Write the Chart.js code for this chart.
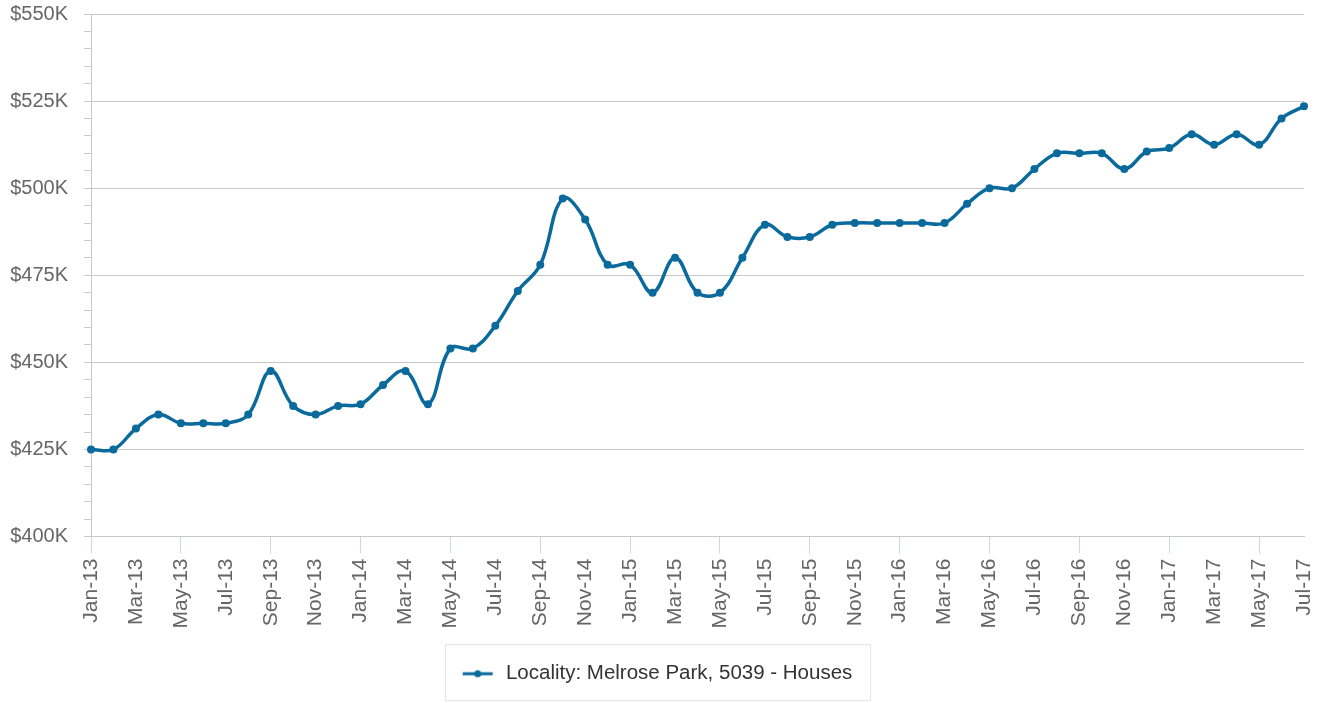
<!DOCTYPE html>
<html>
<head>
<meta charset="utf-8">
<script src="https://cdn.jsdelivr.net/npm/chart.js@4/dist/chart.umd.min.js"></script>
<style>
  html, body { margin: 0; padding: 0; background: #fff; }
  #wrap { width: 1320px; height: 703px; position: relative; }
</style>
</head>
<body>
<div id="wrap"><canvas id="priceChart"></canvas></div>
<script>
// monthly categories Jan-13 .. Jul-17
const months = [
  "Jan-13","Feb-13","Mar-13","Apr-13","May-13","Jun-13","Jul-13","Aug-13","Sep-13","Oct-13","Nov-13","Dec-13",
  "Jan-14","Feb-14","Mar-14","Apr-14","May-14","Jun-14","Jul-14","Aug-14","Sep-14","Oct-14","Nov-14","Dec-14",
  "Jan-15","Feb-15","Mar-15","Apr-15","May-15","Jun-15","Jul-15","Aug-15","Sep-15","Oct-15","Nov-15","Dec-15",
  "Jan-16","Feb-16","Mar-16","Apr-16","May-16","Jun-16","Jul-16","Aug-16","Sep-16","Oct-16","Nov-16","Dec-16",
  "Jan-17","Feb-17","Mar-17","Apr-17","May-17","Jun-17","Jul-17"
];

// median price, Melrose Park houses
const medianPrice = [
  425000, 425000, 431000, 435000, 432500, 432500, 432500, 435000, 447500, 437500, 435000, 437500,
  438000, 443500, 447500, 438000, 454000, 454000, 460500, 470500, 478000, 497000, 491000, 478000,
  478000, 470000, 480000, 470000, 470000, 480000, 489500, 486000, 486000, 489500, 490000, 490000,
  490000, 490000, 490000, 495500, 500000, 500000, 505500, 510000, 510000, 510000, 505500, 510500,
  511500, 515500, 512500, 515500, 512500, 520000, 523500
];

const seriesName = "Locality: Melrose Park, 5039 - Houses";
const yMin = 400000;
const yMax = 550000;
const yMajorStep = 25000;
const yMinorStep = 5000;

const lineColor = "#0b6a9c";
const fontFamily = "'Liberation Sans', Arial, sans-serif";

// legend symbol: short line with a dot in the middle (+3px gap before text)
const symbol = document.createElement("canvas");
symbol.width = 36;
symbol.height = 10;
(function(){
  const c = symbol.getContext("2d");
  c.strokeStyle = lineColor;
  c.lineWidth = 3;
  c.beginPath();
  c.moveTo(3, 5);
  c.lineTo(33, 5);
  c.stroke();
  c.fillStyle = lineColor;
  c.beginPath();
  c.arc(18, 5, 3.5, 0, Math.PI * 2);
  c.fill();
})();

const legendShift = 4;

const legendBox = {
  id: "legendBox",
  afterLayout(chart){
    const lg = chart.legend;
    if(!lg) return;
    lg.left += legendShift;
    lg.right += legendShift;
  },
  afterDraw(chart){
    const lg = chart.legend;
    if(!lg || !lg.legendHitBoxes || !lg.legendHitBoxes.length) return;
    const hb = lg.legendHitBoxes[0];
    const ctx = chart.ctx;
    ctx.save();
    ctx.strokeStyle = "#e6e6e6";
    ctx.lineWidth = 1;
    ctx.strokeRect(Math.round(hb.left - 15) + 0.5, Math.round(lg.top) + 0.5,
                   Math.round(hb.width + 32), 56);
    ctx.restore();
  }
};

const ctx = document.getElementById("priceChart");

new Chart(ctx, {
  type: "line",
  data: {
    labels: months,
    datasets: [{
      label: seriesName,
      data: medianPrice,
      borderColor: lineColor,
      backgroundColor: lineColor,
      borderWidth: 3.5,
      pointRadius: 4,
      pointBorderWidth: 0,
      pointBackgroundColor: lineColor,
      tension: 0.4,
      fill: false
    }]
  },
  options: {
    responsive: true,
    maintainAspectRatio: false,
    animation: false,
    layout: { padding: { top: 14, right: 16, left: 0, bottom: 9 } },
    plugins: {
      tooltip: { enabled: false },
      legend: {
        position: "bottom",
        labels: {
          usePointStyle: true,
          pointStyleWidth: 36,
          padding: 20,
          color: "#333",
          font: { family: fontFamily, size: 20.5 },
          generateLabels(chart){
            const items = Chart.defaults.plugins.legend.labels.generateLabels(chart);
            items.forEach(function(it){ it.pointStyle = symbol; });
            return items;
          }
        }
      }
    },
    scales: {
      x: {
        afterFit(scale){
          scale.height = 107;
          scale.paddingLeft = 0;
          scale.paddingRight = 0;
        },
        grid: {
          drawOnChartArea: false,
          drawTicks: true,
          tickLength: 17,
          tickColor: function(c){ return c.index % 2 === 0 ? "#ccd6eb" : "rgba(0,0,0,0)"; }
        },
        border: { color: "#c8c8c8", width: 1 },
        ticks: {
          autoSkip: false,
          maxRotation: 90,
          minRotation: 90,
          padding: 5,
          color: "#666",
          font: { family: fontFamily, size: 21 },
          callback: function(v, i){ return i % 2 === 0 ? months[i] : null; }
        }
      },
      y: {
        min: yMin,
        max: yMax,
        afterFit(scale){
          scale.width = 91;
          scale.paddingTop = 0;
          scale.paddingBottom = 0;
        },
        grid: {
          color: function(c){
            return c.tick && c.tick.value % yMajorStep === 0 ? "#c8c8c8" : "rgba(0,0,0,0)";
          },
          tickColor: "#c8c8c8",
          tickLength: 7,
          lineWidth: 1
        },
        border: { color: "#c8c8c8", width: 1 },
        ticks: {
          stepSize: yMinorStep,
          autoSkip: false,
          padding: 16,
          color: "#666",
          font: { family: fontFamily, size: 20 },
          callback: function(v){
            return v % yMajorStep === 0 ? "$" + (v / 1000) + "K" : "";
          }
        }
      }
    }
  },
  plugins: [legendBox]
});
</script>
</body>
</html>
